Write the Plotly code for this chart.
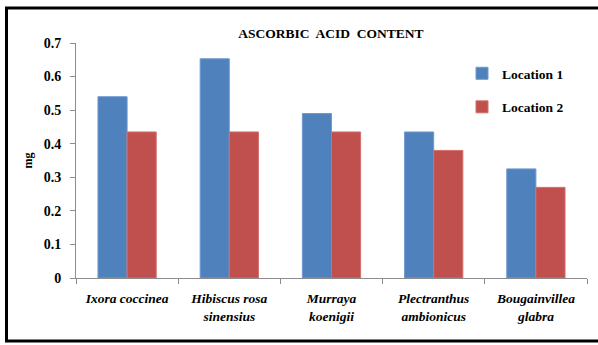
import plotly.graph_objects as go

# Ascorbic acid content (mg) of leaf samples at two locations
species = [
    "Ixora coccinea",
    "Hibiscus rosa<br>sinensius",
    "Murraya<br>koenigii",
    "Plectranthus<br>ambionicus",
    "Bougainvillea<br>glabra",
]
location_1 = [0.54, 0.653, 0.49, 0.435, 0.325]
location_2 = [0.435, 0.435, 0.435, 0.38, 0.27]
y_ticks = [0, 0.1, 0.2, 0.3, 0.4, 0.5, 0.6, 0.7]

W, H = 598, 345
L, R, T, B = 76, 11, 43, 67
SERIF = "Liberation Serif, Times New Roman, serif"

fig = go.Figure()
fig.add_trace(go.Bar(x=species, y=location_1, name="Location 1",
                     marker=dict(color="#4F81BD", line=dict(color="#6E9AD0", width=1)),
                     legendgroup="a"))
fig.add_trace(go.Bar(x=species, y=location_2, name="Location 2",
                     marker=dict(color="#C0504D", line=dict(color="#D46F6C", width=1)),
                     legendgroup="b"))

# Frame around the chart (left, top, bottom edges), drawn in pixel terms
pw, ph = W - L - R, H - T - B
def px(x):
    return (x - L) / pw
def py(y):
    return (H - B - y) / ph

frame = [
    (px(6.5), py(8), px(6.5), py(341)),
    (px(5), py(8), px(W + 5), py(8)),
    (px(5), py(341), px(W + 5), py(341)),
]
shapes = [dict(type="line", xref="paper", yref="paper", x0=a, y0=b, x1=c, y1=d,
               line=dict(color="black", width=3)) for a, b, c, d in frame]

fig.update_layout(
    width=W, height=H,
    margin=dict(l=L, r=R, t=T, b=B, pad=0),
    paper_bgcolor="white", plot_bgcolor="white",
    barmode="group", bargap=0.43, bargroupgap=0,
    title=dict(text="<b>ASCORBIC  ACID  CONTENT</b>", xref="container", x=331 / W,
               xanchor="center", yref="container", y=1 - 33 / H, yanchor="middle",
               font=dict(family=SERIF, size=13.5, color="black")),
    legend=dict(x=px(462), y=py(58), xanchor="left", yanchor="top",
                font=dict(family=SERIF, size=13.5, color="black", weight="bold"),
                traceorder="grouped", tracegroupgap=13,
                bgcolor="rgba(0,0,0,0)", itemwidth=30),
    shapes=shapes,
    showlegend=True,
)
fig.update_xaxes(
    showline=True, linecolor="#8C8C8C", linewidth=1,
    ticks="outside", tickson="boundaries", ticklen=5, tickcolor="#8C8C8C",
    tickfont=dict(family=SERIF, size=13.5, color="black", weight="bold", style="italic"),
    ticklabelstandoff=8,
    showgrid=False,
)
fig.update_yaxes(
    range=[0, 0.7], tickvals=y_ticks, ticktext=[f"{v:g}" for v in y_ticks],
    showline=True, linecolor="#8C8C8C", linewidth=1,
    ticks="outside", ticklen=5, tickcolor="#8C8C8C",
    tickfont=dict(family=SERIF, size=14, color="black", weight="bold"),
    ticklabelstandoff=6,
    showgrid=False, zeroline=False,
    title=dict(text="<b>mg</b>", font=dict(family=SERIF, size=12, color="black"), standoff=8),
)

fig.write_html("out.html")
